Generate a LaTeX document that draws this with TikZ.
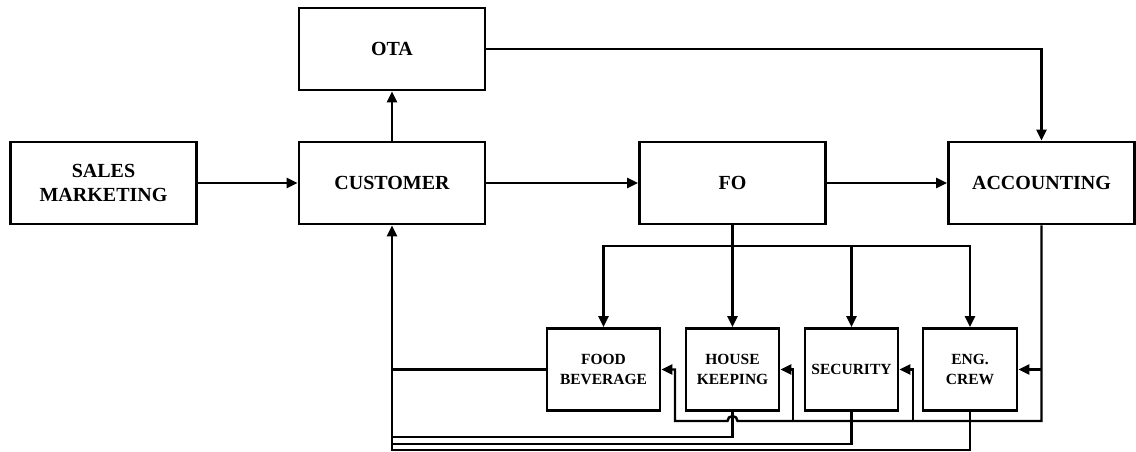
\documentclass[tikz,border=0pt]{standalone}
\usepackage{fontspec}
\setmainfont{Liberation Serif}
\usetikzlibrary{arrows.meta}
\begin{document}
\begin{tikzpicture}[x=1pt,y=-1pt,
  box/.style={draw,line width=2.7pt,rectangle,inner sep=0pt,align=center,
    font=\bfseries\fontsize{20}{24}\selectfont},
  bigbox/.style={box,minimum width=186pt,minimum height=82pt},
  smallbox/.style={box,minimum width=93pt,minimum height=82pt,
    font=\bfseries\fontsize{15.5}{20}\selectfont},
  wire/.style={line width=2.4pt},
  conn/.style={wire,-{Triangle[length=11pt,width=10pt]}}]
\useasboundingbox (0,0) rectangle (1136,452);

% main row
\node[bigbox] (sales) at (103.5,183) {SALES\\MARKETING};
\node[bigbox] (cust)  at (392,183)   {CUSTOMER};
\node[bigbox] (ota)   at (392,49)    {OTA};
\node[bigbox] (fo)    at (732.5,183) {FO};
\node[bigbox] (acc)   at (1041.5,183) {ACCOUNTING};

% departments
\node[smallbox,minimum width=113pt] (fb) at (603.5,369.5) {FOOD\\BEVERAGE};
\node[smallbox] (hk)  at (732.5,369.5) {HOUSE\\KEEPING};
\node[smallbox] (sec) at (851.5,369.5) {SECURITY};
\node[smallbox,minimum width=94pt] (eng) at (970,369.5) {ENG.\\CREW};

% main flow
\draw[conn] (sales) -- (cust);
\draw[conn] (cust) -- (fo);
\draw[conn] (fo) -- (acc);
\draw[conn] (cust) -- (ota);
\draw[conn] (ota.east) -| (acc.north);

% front office to departments
\coordinate (split) at (732.5,246);
\draw[conn] (fo.south) -- (hk.north);
\draw[conn] (split) -| (fb.north);
\draw[conn] (split) -| (sec.north);
\draw[conn] (split) -| (eng.north);

% accounting to departments
\coordinate (accbus) at (1041.5,421);
\draw[conn] (acc.south) -- (accbus) -- (737.5,421)
  arc[start angle=0,end angle=180,radius=5pt] -- (675,421) |- (fb.east);
\draw[conn] (acc.south |- eng.east) -- (eng.east);
\draw[conn] (913,421) |- (sec.east);
\draw[conn] (793,421) |- (hk.east);

% departments back to customer
\draw[wire] (fb.west) -- (fb.west -| cust.south);
\draw[wire] (hk.south) |- (392,437);
\draw[wire] (sec.south) |- (392,444);
\draw[conn] (eng.south) |- (392,450) -- (cust.south);
\end{tikzpicture}
\end{document}
